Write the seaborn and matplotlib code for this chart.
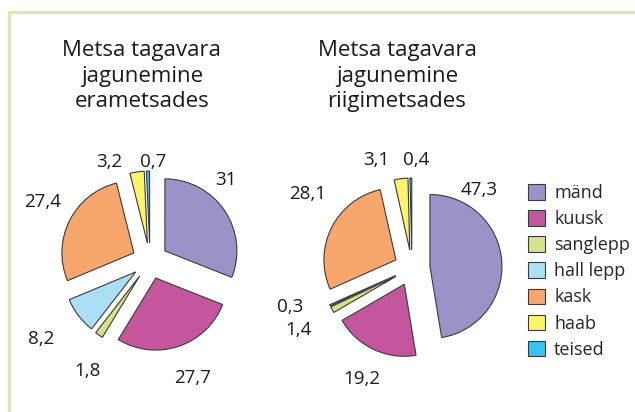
import matplotlib
matplotlib.use("Agg")
import matplotlib.pyplot as plt
import matplotlib.patches as mpatches
import seaborn as sns

# andmed
species = ['mänd', 'kuusk', 'sanglepp', 'hall lepp', 'kask', 'haab', 'teised']
era_values = [31, 27.7, 1.8, 8.2, 27.4, 3.2, 0.7]
riigi_values = [47.3, 19.2, 1.4, 0.3, 28.1, 3.1, 0.4]
era_title = 'Metsa tagavara\njagunemine\nerametsades'
riigi_title = 'Metsa tagavara\njagunemine\nriigimetsades'

colors = sns.color_palette(['#9a93c7', '#c4569e', '#d5e18c', '#aadff6',
                            '#f7a76d', '#fbf36b', '#39c3ee'])

sns.set_theme(style='white')
plt.rcParams['font.family'] = ['Open Sans', 'DejaVu Sans']

W, H = 635, 412
fig = plt.figure(figsize=(W / 100, H / 100), dpi=100)
ax = fig.add_axes([0, 0, 1, 1])

# pildi koordinaadid (y ülalt alla)
era_lbl_pos = [(226, 180), (193, 378), (87, 371), (41, 339), (43, 202), (109, 162), (153, 162)]
riigi_lbl_pos = [(479, 190), (362, 379), (298, 330), (290, 307), (308, 194), (376, 160), (416, 160)]


def fmt(v):
    return f'{v:g}'.replace('.', ',')


def draw_pie(values, cx, cy, title, tx, lbl_pos):
    wedges, _ = ax.pie(values, colors=colors, startangle=90, counterclock=False,
                       center=(cx, H - cy), radius=72, explode=[18] * len(values),
                       wedgeprops=dict(edgecolor='#3a3a3a', linewidth=0.8), frame=True)
    for v, (x, y) in zip(values, lbl_pos):
        ax.text(x, H - y, fmt(v), ha='center', va='center', fontsize=13.5, color='#1a1a1a')
    ax.text(tx, H - 76, title, ha='center', va='center', fontsize=16,
            linespacing=1.28, color='#1a1a1a')
    return wedges


draw_pie(era_values, 150, 261, era_title, 142, era_lbl_pos)
draw_pie(riigi_values, 412, 268, riigi_title, 397, riigi_lbl_pos)

# raam
ax.add_patch(mpatches.Rectangle((9, -10), W + 20, H - 12 + 10, fill=False,
                                edgecolor='#d9ebb3', linewidth=2.2))

ax.set_xlim(0, W)
ax.set_ylim(0, H)
ax.set_aspect('equal')
ax.axis('off')

handles = [mpatches.Patch(facecolor=c, edgecolor='#3a3a3a', linewidth=0.8, label=s)
           for c, s in zip(colors, species)]
ax.legend(handles=handles, loc='upper left', bbox_to_anchor=(528 / W, 1 - 184 / H),
          frameon=False, fontsize=13, handlelength=0.95, handleheight=0.95,
          handletextpad=0.5, labelspacing=0.45, borderpad=0, borderaxespad=0)

fig.savefig('out.png', dpi=100)
